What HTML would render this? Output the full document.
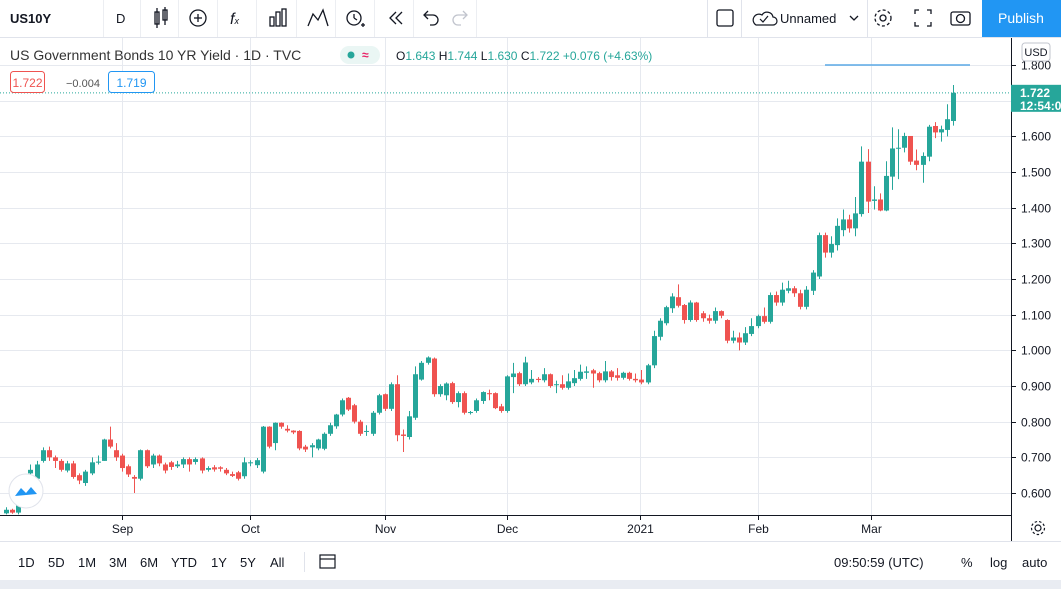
<!DOCTYPE html>
<html><head><meta charset="utf-8"><style>
body{margin:0;width:1061px;height:589px;overflow:hidden;background:#fff;font-family:"Liberation Sans",sans-serif}
svg text{font-family:"Liberation Sans",sans-serif}
</style></head><body>
<svg id="chart" width="1061" height="589" viewBox="0 0 1061 589" xmlns="http://www.w3.org/2000/svg">
<g>
<rect x="0" y="0" width="1061" height="37" fill="#fff"/>
<line x1="0" y1="37.5" x2="1061" y2="37.5" stroke="#e0e3eb"/>
<text x="10" y="23" font-size="13" font-weight="bold" fill="#131722">US10Y</text>
<g stroke="#eceef2"><line x1="103.5" y1="0" x2="103.5" y2="37"/><line x1="140.5" y1="0" x2="140.5" y2="37"/><line x1="178.5" y1="0" x2="178.5" y2="37"/><line x1="217.5" y1="0" x2="217.5" y2="37"/><line x1="256.5" y1="0" x2="256.5" y2="37"/><line x1="296.5" y1="0" x2="296.5" y2="37"/><line x1="335.5" y1="0" x2="335.5" y2="37"/><line x1="374.5" y1="0" x2="374.5" y2="37"/><line x1="413.5" y1="0" x2="413.5" y2="37"/><line x1="476.5" y1="0" x2="476.5" y2="37"/></g>
<text x="116" y="23" font-size="13" fill="#131722">D</text>
<g stroke="#131722" fill="none" stroke-width="1.3">
<g><rect x="155" y="12" width="4" height="12"/><rect x="163" y="10" width="4" height="10"/><line x1="157" y1="8" x2="157" y2="28"/><line x1="165" y1="7" x2="165" y2="25"/></g>
<g><circle cx="198" cy="18" r="8"/><line x1="194" y1="18" x2="202" y2="18"/><line x1="198" y1="14" x2="198" y2="22"/></g>
<text x="230" y="24" font-size="16" font-style="italic" fill="#131722" stroke="none">f<tspan font-size="9">x</tspan></text>
<g><rect x="270" y="17" width="4" height="9"/><rect x="276" y="12" width="4" height="14"/><rect x="282" y="9" width="4" height="17"/></g>
<g><polyline points="308,26 313,14 318,20 323,10 328,26"/></g>
<g><circle cx="354" cy="18" r="7"/><line x1="354" y1="14" x2="354" y2="18"/><line x1="354" y1="18" x2="357" y2="20"/><line x1="361" y1="25" x2="365" y2="25"/><line x1="363" y1="23" x2="363" y2="27"/></g>
<g><polyline points="396,12 390,18 396,24"/><polyline points="402,12 396,18 402,24"/></g>
<g><path d="M425 15 h8 a5 5 0 0 1 0 10 h-3"/><polyline points="428,11 424,15 428,19"/></g>
<g stroke="#c1c4cd"><path d="M466 15 h-8 a5 5 0 0 0 0 10 h3"/><polyline points="463,11 467,15 463,19"/></g>
</g>
<line x1="707.5" y1="0" x2="707.5" y2="37" stroke="#e0e3eb"/>
<rect x="717" y="10" width="16" height="16" rx="2" fill="none" stroke="#131722" stroke-width="1.3"/>
<line x1="741.5" y1="0" x2="741.5" y2="37" stroke="#e0e3eb"/>
<g><path d="M756 25 h17 a4 4 0 0 0 0-8 a6 6 0 0 0-11-2 a5 5 0 0 0-6 10z" fill="none" stroke="#131722" stroke-width="1.2"/><polyline points="760,19 763,22 768,16" fill="none" stroke="#131722" stroke-width="1.2"/>
<text x="780" y="23" font-size="13" fill="#131722">Unnamed</text><polyline points="850,16 854,20 858,16" fill="none" stroke="#131722" stroke-width="1.3"/></g>
<line x1="867.5" y1="0" x2="867.5" y2="37" stroke="#e0e3eb"/>
<g fill="none" stroke="#131722" stroke-width="1.3"><circle cx="883" cy="18" r="3"/><circle cx="883" cy="18" r="8" stroke-dasharray="3 2.3"/></g>
<g fill="none" stroke="#131722" stroke-width="1.3"><polyline points="915,14 915,10 919,10"/><polyline points="927,10 931,10 931,14"/><polyline points="915,22 915,26 919,26"/><polyline points="927,26 931,26 931,22"/></g>
<g fill="none" stroke="#131722" stroke-width="1.3"><rect x="951" y="12" width="19" height="13" rx="2"/><circle cx="960.5" cy="18.5" r="4"/></g>
<rect x="982" y="0" width="79" height="37" fill="#2196f3"/>
<text x="1021" y="23" font-size="14" fill="#fff" text-anchor="middle">Publish</text>
</g>
<g id="grid"></g>
<line x1="0" y1="515.5" x2="1011" y2="515.5" stroke="#131722"/>
<line x1="1011.5" y1="38" x2="1011.5" y2="541" stroke="#131722"/>
<line x1="825" y1="65" x2="970" y2="65" stroke="#5aa9e6" stroke-width="1.5"/>
<g id="candles"></g>
<g id="yaxis"></g>
<g id="xaxis"></g>
<line id="lastline" x1="0" x2="1011" stroke="#26a69a" stroke-dasharray="1 2"/>
<g><rect id="lastbox" x="1011" width="50" height="27" fill="#26a69a"/>
<text id="lasttxt" x="1020" font-size="12" font-weight="bold" fill="#fff">1.722</text>
<text id="lasttime" x="1020" font-size="12" font-weight="bold" fill="#fff">12:54:0</text></g>
<g><rect x="1022" y="43" width="28" height="18" rx="3" fill="#fff" stroke="#c1c4cd"/><text x="1036" y="56" font-size="11" fill="#131722" text-anchor="middle">USD</text></g>
<g>
<text x="10" y="60" font-size="14" fill="#333">US Government Bonds 10 YR Yield · 1D · TVC</text>
<rect x="340" y="46" width="40" height="18" rx="9" fill="#eaf6f4"/>
<circle cx="351" cy="55" r="3.5" fill="#26a69a"/>
<text x="362" y="59" font-size="12" font-weight="bold" fill="#e91e63">≈</text>
<text x="396" y="60" font-size="12" fill="#26a69a"><tspan fill="#131722">O</tspan>1.643 <tspan fill="#131722">H</tspan>1.744 <tspan fill="#131722">L</tspan>1.630 <tspan fill="#131722">C</tspan>1.722 +0.076 (+4.63%)</text>
<rect x="10.5" y="71.5" width="34" height="21" rx="3" fill="#fff" stroke="#ef5350"/>
<text x="27.5" y="87" font-size="12" fill="#ef5350" text-anchor="middle">1.722</text>
<text x="66" y="87" font-size="11" fill="#555">−0.004</text>
<rect x="108.5" y="71.5" width="46" height="21" rx="3" fill="#fff" stroke="#2196f3"/>
<text x="131.5" y="87" font-size="12" fill="#2196f3" text-anchor="middle">1.719</text>
</g>
<g><circle cx="26" cy="491" r="17" fill="#fff" stroke="#e0e3eb"/><path d="M15 496 l6-8 5 5 5-6 6 7z" fill="#2196f3"/></g>
<g fill="none" stroke="#131722" stroke-width="1.2"><circle cx="1038" cy="528" r="3"/><circle cx="1038" cy="528" r="6.5" stroke-dasharray="2.5 2"/></g>
<g>
<line x1="0" y1="541.5" x2="1061" y2="541.5" stroke="#e0e3eb"/>
<rect x="0" y="580" width="1061" height="9" fill="#e9ecf2"/>
<g font-size="13" fill="#131722">
<text x="18" y="567">1D</text>
<text x="48" y="567">5D</text>
<text x="78" y="567">1M</text>
<text x="109" y="567">3M</text>
<text x="140" y="567">6M</text>
<text x="171" y="567">YTD</text>
<text x="211" y="567">1Y</text>
<text x="240" y="567">5Y</text>
<text x="270" y="567">All</text>
<text x="834" y="567">09:50:59 (UTC)</text>
<text x="961" y="567">%</text>
<text x="990" y="567">log</text>
<text x="1022" y="567">auto</text>
</g>
<line x1="304.5" y1="552" x2="304.5" y2="572" stroke="#e0e3eb"/>
<g fill="none" stroke="#131722" stroke-width="1.2"><rect x="320" y="555" width="15" height="13"/><line x1="320" y1="559" x2="335" y2="559"/></g>
</g>
</svg>
<script>
const opens=[.543,.553,.545,.600,.655,.640,.690,.720,.700,.690,.663,.683,.650,.628,.655,.685,.690,.750,.720,.705,.675,.645,.640,.720,.680,.705,.680,.686,.675,.680,.695,.687,.697,.665,.672,.672,.665,.653,.658,.647,.684,.678,.660,.786,.740,.797,.780,.775,.774,.730,.728,.725,.724,.766,.787,.820,.867,.846,.800,.772,.766,.825,.877,.836,.905,.764,.757,.811,.918,.965,.977,.877,.874,.908,.855,.880,.825,.830,.858,.880,.880,.843,.830,.925,.936,.905,.910,.920,.916,.933,.903,.905,.895,.908,.920,.937,.944,.936,.916,.941,.930,.923,.937,.920,.918,.910,.958,1.038,1.076,1.118,1.149,1.127,1.085,1.134,1.104,1.090,1.083,1.110,1.085,1.027,1.036,1.022,1.046,1.068,1.096,1.080,1.155,1.134,1.167,1.174,1.160,1.122,1.167,1.207,1.323,1.274,1.295,1.337,1.367,1.342,1.382,1.529,1.419,1.423,1.392,1.487,1.566,1.568,1.601,1.532,1.520,1.543,1.629,1.611,1.618,1.643];
const closes=[.553,.545,.570,.645,.665,.680,.720,.700,.690,.665,.683,.645,.635,.660,.686,.688,.750,.730,.700,.670,.652,.640,.720,.675,.705,.683,.663,.673,.680,.695,.680,.695,.663,.670,.666,.668,.655,.648,.640,.686,.686,.692,.786,.730,.797,.786,.775,.770,.725,.722,.734,.750,.766,.790,.820,.860,.834,.800,.766,.774,.825,.874,.836,.905,.762,.760,.815,.933,.965,.980,.877,.900,.907,.855,.880,.825,.827,.860,.883,.877,.838,.830,.927,.935,.905,.966,.920,.917,.933,.900,.905,.895,.913,.922,.940,.941,.935,.916,.941,.925,.923,.937,.920,.916,.910,.958,1.040,1.083,1.121,1.151,1.125,1.085,1.134,1.085,1.090,1.083,1.110,1.097,1.027,1.036,1.022,1.048,1.068,1.096,1.080,1.155,1.134,1.170,1.174,1.160,1.122,1.170,1.218,1.323,1.274,1.298,1.349,1.367,1.342,1.384,1.529,1.417,1.423,1.392,1.489,1.566,1.568,1.601,1.529,1.520,1.545,1.627,1.611,1.620,1.648,1.722];
const highs=[.560,.556,.580,.650,.680,.690,.728,.730,.705,.695,.690,.690,.655,.665,.700,.705,.752,.786,.740,.710,.680,.650,.722,.722,.710,.708,.685,.690,.690,.700,.700,.700,.700,.675,.678,.675,.670,.660,.662,.700,.692,.698,.788,.787,.798,.798,.790,.776,.776,.735,.740,.752,.770,.797,.822,.865,.869,.850,.805,.790,.830,.878,.879,.910,.930,.778,.830,.955,.970,.983,.980,.905,.910,.912,.885,.885,.830,.865,.885,.890,.882,.850,.930,.965,.940,.982,.945,.925,.950,.935,.915,.930,.935,.945,.960,.955,.948,.940,.970,.945,.950,.940,.940,.935,.945,.962,1.055,1.090,1.125,1.160,1.185,1.130,1.140,1.136,1.110,1.100,1.120,1.112,1.087,1.055,1.050,1.065,1.090,1.100,1.120,1.162,1.165,1.190,1.195,1.180,1.170,1.180,1.225,1.330,1.330,1.320,1.370,1.395,1.380,1.430,1.572,1.564,1.460,1.440,1.530,1.625,1.620,1.610,1.585,1.563,1.555,1.632,1.640,1.630,1.690,1.744];
const lows=[.540,.542,.540,.595,.645,.630,.685,.690,.670,.660,.658,.640,.625,.620,.650,.680,.690,.725,.690,.660,.645,.600,.635,.670,.670,.675,.655,.665,.670,.670,.660,.680,.655,.660,.660,.660,.650,.645,.635,.640,.675,.670,.655,.725,.720,.780,.770,.765,.720,.715,.700,.720,.720,.760,.780,.815,.830,.795,.760,.760,.760,.820,.830,.830,.745,.715,.750,.805,.915,.960,.870,.870,.860,.850,.840,.820,.820,.825,.850,.860,.835,.825,.825,.880,.900,.900,.905,.910,.910,.895,.880,.890,.890,.900,.915,.920,.895,.910,.910,.915,.915,.918,.915,.910,.905,.905,.950,1.028,1.070,1.105,1.120,1.075,1.080,1.080,1.080,1.075,1.075,1.090,1.020,1.020,1.000,1.015,1.040,1.062,1.075,1.075,1.125,1.125,1.160,1.150,1.115,1.115,1.155,1.200,1.260,1.260,1.280,1.320,1.330,1.320,1.375,1.385,1.395,1.390,1.390,1.450,1.480,1.555,1.520,1.505,1.470,1.530,1.595,1.585,1.600,1.630];
const yTicks=[0.6,0.7,0.8,0.9,1.0,1.1,1.2,1.3,1.4,1.5,1.6,1.7,1.8];
const monthLabels=["Sep","Oct","Nov","Dec","2021","Feb","Mar"];
const monthIndex=[19.0,40.0,62.0,82.0,103.8,123.0,141.6];
const lastPrice=1.722;

const NS="http://www.w3.org/2000/svg";
const X0=6,STEP=6.11;
function xs(i){return X0+i*STEP;}
function ys(p){return 65+(1.8-p)*356.67;}
function mk(tag,attrs,parent){const e=document.createElementNS(NS,tag);for(const k in attrs)e.setAttribute(k,attrs[k]);parent.appendChild(e);return e;}
const grid=document.getElementById('grid'),yax=document.getElementById('yaxis'),xax=document.getElementById('xaxis'),cg=document.getElementById('candles');
yTicks.forEach(v=>{const y=Math.round(ys(v))+0.5;
 const l=mk('line',{x1:0,x2:1011,y1:y,y2:y,stroke:'#e6e9ef'},grid);
 
 
 mk('line',{x1:1011,x2:1016,y1:y,y2:y,stroke:'#131722'},yax);
 const t=mk('text',{x:1021,y:y+4,'font-size':12,fill:'#131722'},yax);t.textContent=v.toFixed(3);
 
 
});
monthLabels.forEach((m,k)=>{const x=Math.round(xs(monthIndex[k]))+0.5;
 const l=mk('line',{x1:x,x2:x,y1:38,y2:515,stroke:'#e6e9ef'},grid);
 
 
 mk('line',{x1:x,x2:x,y1:515,y2:520,stroke:'#131722'},xax);
 const t=mk('text',{x:x,y:533,'font-size':12,fill:'#131722','text-anchor':'middle'},xax);t.textContent=m;
 
 
});
opens.forEach((o,i)=>{const c=closes[i],up=c>=o,col=up?'#26a69a':'#ef5350',x=Math.round(xs(i));
 const g=mk('g',{},cg);
 
 
 mk('line',{x1:x+0.5,x2:x+0.5,y1:ys(highs[i]),y2:ys(lows[i]),stroke:col},g);
 const t=ys(Math.max(o,c)),b=ys(Math.min(o,c));
 mk('rect',{x:x-2,y:t,width:5,height:Math.max(1,b-t),fill:col},g);
});
const ly=ys(lastPrice);
document.getElementById('lastline').setAttribute('y1',ly);document.getElementById('lastline').setAttribute('y2',ly);
document.getElementById('lastbox').setAttribute('y',ly-8);
document.getElementById('lasttxt').setAttribute('y',ly+4);
document.getElementById('lasttime').setAttribute('y',ly+17);
</script>
</body></html>
